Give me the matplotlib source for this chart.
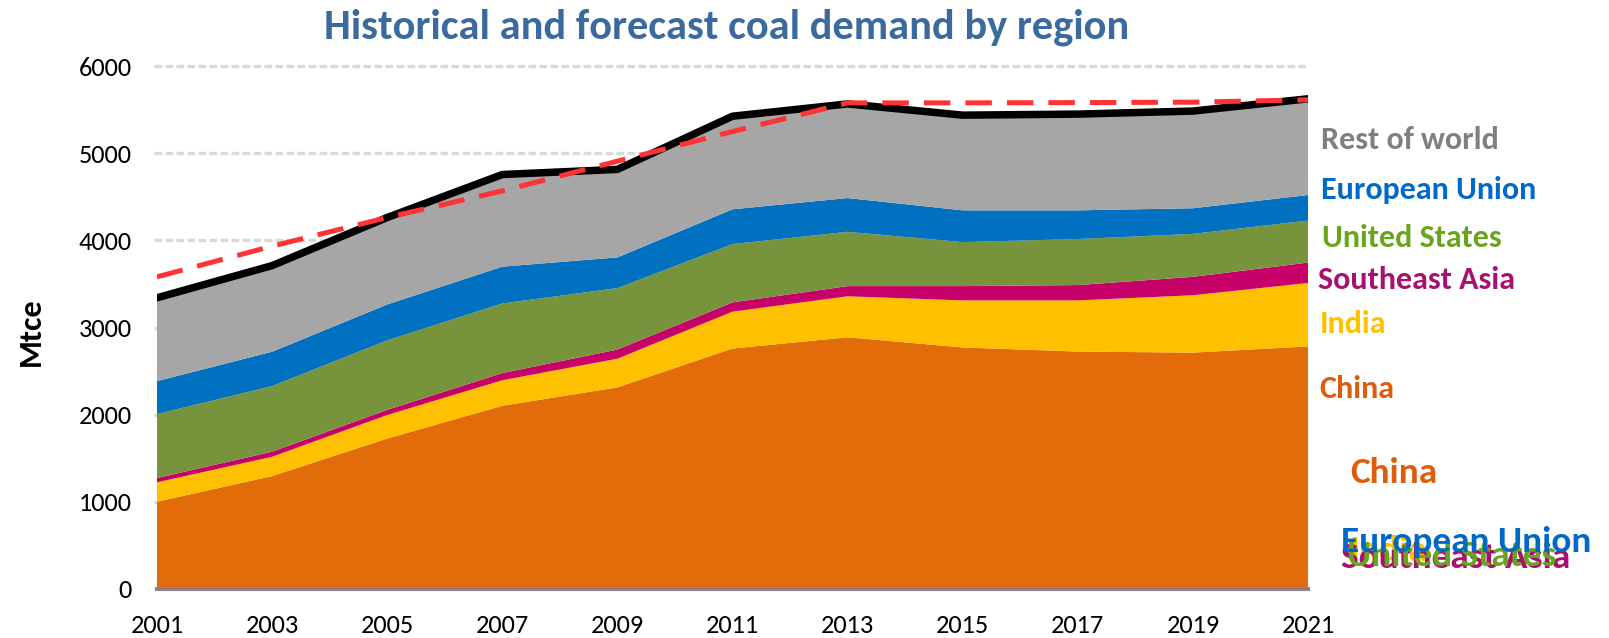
import matplotlib
matplotlib.use("Agg")
import matplotlib.pyplot as plt
from matplotlib import font_manager as fm
import numpy as np

years = [2001, 2003, 2005, 2007, 2009, 2011, 2013, 2015, 2017, 2019, 2021]
china = [1001, 1296, 1726, 2102, 2313, 2759, 2888, 2771, 2724, 2712, 2783]
india = [223, 221, 270, 293, 329, 423, 470, 540, 587, 658, 728]
se_asia = [49, 58, 59, 82, 105, 106, 117, 164, 176, 211, 234]
united_states = [734, 753, 798, 799, 705, 669, 623, 505, 528, 493, 482]
european_union = [378, 394, 411, 422, 352, 399, 387, 364, 329, 294, 293]
rest_of_world = [956, 988, 998, 1057, 1010, 1068, 1080, 1092, 1104, 1115, 1104]
forecast = [3581, 3933, 4262, 4567, 4908, 5248, 5577, 5577, 5580, 5585, 5612]
yticks = [0, 1000, 2000, 3000, 4000, 5000, 6000]

names = ["China", "India", "Southeast Asia", "United States", "European Union", "Rest of world"]
area_colors = ["#E36C0A", "#FFC000", "#C8006A", "#77933C", "#0070C0", "#A6A6A6"]
label_colors = ["#DE5C0A", "#FFC000", "#A8106F", "#68A51C", "#0069C8", "#7F7F7F"]

avail = {f.name for f in fm.fontManager.ttflist}
if "Carlito" in avail:
    main = "Carlito"
    k = 1.0
else:
    main = "Open Sans"
    k = 0.87
tick_fs = 19 * k
lab_fs = 23 * k
big_fs = 26.8 * k
title_fs = 30.5 * k

W, H = 1609, 638
fig = plt.figure(figsize=(W / 100, H / 100), dpi=100)
ax = fig.add_axes([157 / W, 1 - 589 / H, (1308 - 157) / W, (589 - 66) / H])

series = [china, india, se_asia, united_states, european_union, rest_of_world]
ax.stackplot(years, *series, colors=area_colors, linewidth=0)
total = np.sum(np.array(series), axis=0)
ax.plot(years, total, color="black", lw=5.4, solid_capstyle="round", zorder=5)
ax.plot(years, forecast, color="#FF3333", lw=3.6, dashes=(5.3, 3.0), zorder=6)

ax.set_xlim(2001, 2021)
ax.set_ylim(0, 6000)
ax.set_yticks(yticks)
ax.set_xticks(years)
for y in yticks[1:]:
    ax.axhline(y, color="#D9D9D9", lw=2.4, dashes=(2.3, 1.0), zorder=0, xmin=-0.003, clip_on=False)
for s in ["top", "right", "left"]:
    ax.spines[s].set_visible(False)
ax.spines["bottom"].set_color("#888888")
ax.spines["bottom"].set_linewidth(3)
ax.axhline(0, color="#C8006A", lw=1.0, zorder=4)
ax.tick_params(axis="both", length=0, labelsize=tick_fs)
ax.tick_params(axis="y", pad=18)
ax.tick_params(axis="x", pad=18)
for lab in ax.get_xticklabels() + ax.get_yticklabels():
    lab.set_fontfamily(main)

fig.text(727 / W, 1 - 39 / H, "Historical and forecast coal demand by region",
         ha="center", va="baseline", fontsize=title_fs, fontweight="bold", color="#3B6A9F", family=main)
fig.text(31 / W, 1 - 332 / H, "Mtce", rotation=90, ha="center", va="center",
         fontsize=lab_fs, fontweight="bold", color="black", family=main)

# right-side labels
right_labels = [
    ("Rest of world", 1321, 149, label_colors[5], lab_fs),
    ("European Union", 1321, 199, label_colors[4], lab_fs),
    ("United States", 1322, 247, label_colors[3], lab_fs),
    ("Southeast Asia", 1318, 289, label_colors[2], lab_fs),
    ("India", 1320, 333, label_colors[1], lab_fs),
    ("China", 1319, 398, label_colors[0], lab_fs),
    ("China", 1350, 483, label_colors[0], big_fs),
    ("India", 1349, 561, label_colors[1], big_fs),
    ("Southeast Asia", 1341, 568, label_colors[2], big_fs),
    ("United States", 1347, 566, label_colors[3], big_fs),
    ("European Union", 1341, 552, label_colors[4], big_fs),
]
for txt, x, y, c, fs in right_labels:
    fig.text(x / W, 1 - y / H, txt, ha="left", va="baseline", fontsize=fs,
             fontweight="bold", color=c, family=main)

fig.savefig("out.png", dpi=100)
